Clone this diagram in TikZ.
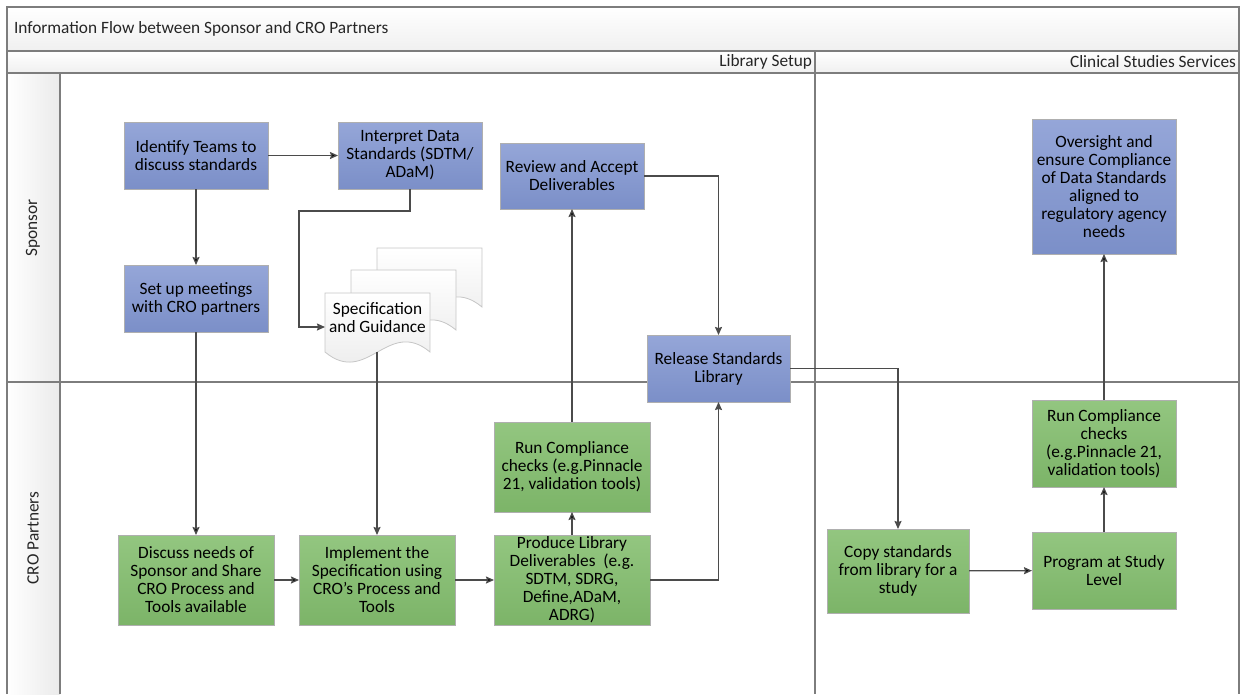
\documentclass[tikz,border=0pt]{standalone}
\usepackage{fontspec}
\setmainfont{Carlito}
\usepackage{tikz}
\usetikzlibrary{positioning}
\usetikzlibrary{shapes,arrows,arrows.meta,backgrounds,fit,calc}
\definecolor{sponsortop}{RGB}{149,166,216}
\definecolor{sponsorbot}{RGB}{123,143,200}
\definecolor{crotop}{RGB}{147,198,128}
\definecolor{crobot}{RGB}{124,180,104}
\definecolor{boxline}{RGB}{175,175,175}
\definecolor{lanegray}{RGB}{125,125,125}
\definecolor{pilgray}{RGB}{75,75,75}
\tikzset{
    %Define standard arrow tip
    >={Stealth[length=8pt,width=7pt,inset=1pt]},
    % Define arrow style
    pil/.style={
           ->,
           draw=pilgray,
           line width=1.3pt,}
}
\newcommand{\boxfont}{\fontsize{17.3}{18}\selectfont}
\newcommand{\lanefont}{\fontsize{17.3}{20}\selectfont}
% document sheet with a wavy foot: x, y, width, height
\newcommand{\docsheet}[4]{%
  \draw[draw=gray!45, line width=0.8pt, top color=white, bottom color=gray!18]
    (#1,#2) -- (#1+#3,#2) -- (#1+#3,#2+#4)
    .. controls (#1+0.6*#3,#2+#4-35) and (#1+0.4*#3,#2+#4+35) .. (#1,#2+#4) -- cycle;}

\begin{document}
\begin{tikzpicture}[x=1pt, y=-1pt, node distance=0pt, outer sep=0pt]
\tikzstyle{spon}=[draw=boxline, rectangle, minimum width=144pt, minimum height=67pt, top color=sponsortop, bottom color=sponsorbot, align=center, font=\boxfont, inner ysep=0pt, anchor=north west]
\tikzstyle{cro}=[draw=boxline, rectangle, minimum width=156pt, minimum height=90pt, top color=crotop, bottom color=crobot, align=center, font=\boxfont, inner ysep=0pt, anchor=north west]
\tikzstyle{lane}=[draw=lanegray, line width=1.2pt]
\tikzstyle{lanetext}=[font=\lanefont, text=black!85, inner sep=0pt]

\useasboundingbox (0,0) rectangle (1244,694);

% swimlane frame
\fill[top color=white, bottom color=gray!12] (7,7) rectangle (1239,51);
\fill[top color=white, bottom color=gray!12] (7,51) rectangle (1239,73);
\fill[left color=white, right color=gray!16] (7,73) rectangle (60,694);
\draw[lane] (7,694) -- (7,7) -- (1239,7) -- (1239,694);
\draw[lane] (7,51) -- (1239,51);
\draw[lane] (7,73) -- (1239,73);
\draw[lane] (7,382) -- (1239,382);
\draw[lane] (60,73) -- (60,694);
\draw[lane] (815,51) -- (815,694);

\node[lanetext, anchor=west] (title) at (14,29) {Information Flow between Sponsor and CRO Partners};
\node[lanetext, anchor=east] (setupphase) at (812,62) {Library Setup};
\node[lanetext, anchor=east] (studyphase) at (1236,62) {Clinical Studies Services};
\node[lanetext, rotate=90] (sponsorlane) at (33,228) {Sponsor};
\node[lanetext, rotate=90] (crolane) at (33,538) {CRO Partners};

% sponsor lane
\node[spon] (ident) at (124,122) {Identify Teams to\\discuss standards};
\node[spon] (interp) [right = 70pt of ident] {Interpret Data\\Standards (SDTM/\\ADaM)};
\node[spon] (setup) [below = 76pt of ident] {Set up meetings\\with CRO partners};
\node[spon, minimum height=66pt] (review) at (500,143) {Review and Accept\\Deliverables};
\node[spon, minimum width=143pt] (release) at (647,335) {Release Standards\\Library};
\node[spon, minimum height=135pt] (oversight) at (1032,119) {Oversight and\\ensure Compliance\\of Data Standards\\aligned to\\regulatory agency\\needs};

\docsheet{377}{248}{105}{59}
\docsheet{351}{270}{105}{60}
\docsheet{325}{293}{105}{59}
\node[minimum width=105pt, minimum height=59pt, anchor=north west] (spec) at (325,293) {};
\node[font=\boxfont, align=center, inner sep=0pt] (spectext) at ([yshift=4.5pt]spec.center) {Specification\\and Guidance};

% CRO lane
\node[cro] (discuss) at (118,535) {Discuss needs of\\Sponsor and Share\\CRO Process and\\Tools available};
\node[cro] (implement) [right = 25pt of discuss] {Implement the\\Specification using\\CRO’s Process and\\Tools};
\node[cro] (runlib) at (494,422) {Run Compliance\\checks (e.g.Pinnacle\\21, validation tools)};
\node[cro] (produce) [below = 23pt of runlib] {Produce Library\\Deliverables~ (e.g.\\SDTM, SDRG,\\Define,ADaM,\\ADRG)};
\node[cro, minimum width=142pt, minimum height=84pt] (copy) at (827,529) {Copy standards\\from library for a\\study};
\node[cro, minimum width=144pt, minimum height=77pt] (program) at (1032,532) {Program at Study\\Level};
\node[cro, minimum width=144pt, minimum height=87pt] (runstudy) at (1032,400) {Run Compliance\\checks\\(e.g.Pinnacle 21,\\validation tools)};

\path[pil] (ident) edge (interp);
\path[pil] (ident) edge (setup);
\draw[pil] (interp.south) -- ++(0,22) -| ([xshift=-26pt,yshift=-4.5pt]spec.west) -- ([yshift=-4.5pt]spec.west);
\path[pil] (setup) edge (discuss);
\draw[pil] (spec.south -| implement.north) -- (implement.north);
\path[pil] (discuss) edge (implement);
\path[pil] (implement) edge (produce);
\path[pil] (produce) edge (runlib);
\path[pil] (runlib) edge (review);
\draw[pil] (review.east) -| (release.north);
\draw[pil] (produce.east) -| (release.south);
\draw[pil] (release.east) -| (copy.north);
\path[pil] (copy) edge (program);
\path[pil] (program) edge (runstudy);
\path[pil] (runstudy) edge (oversight);

\end{tikzpicture}
\end{document}
